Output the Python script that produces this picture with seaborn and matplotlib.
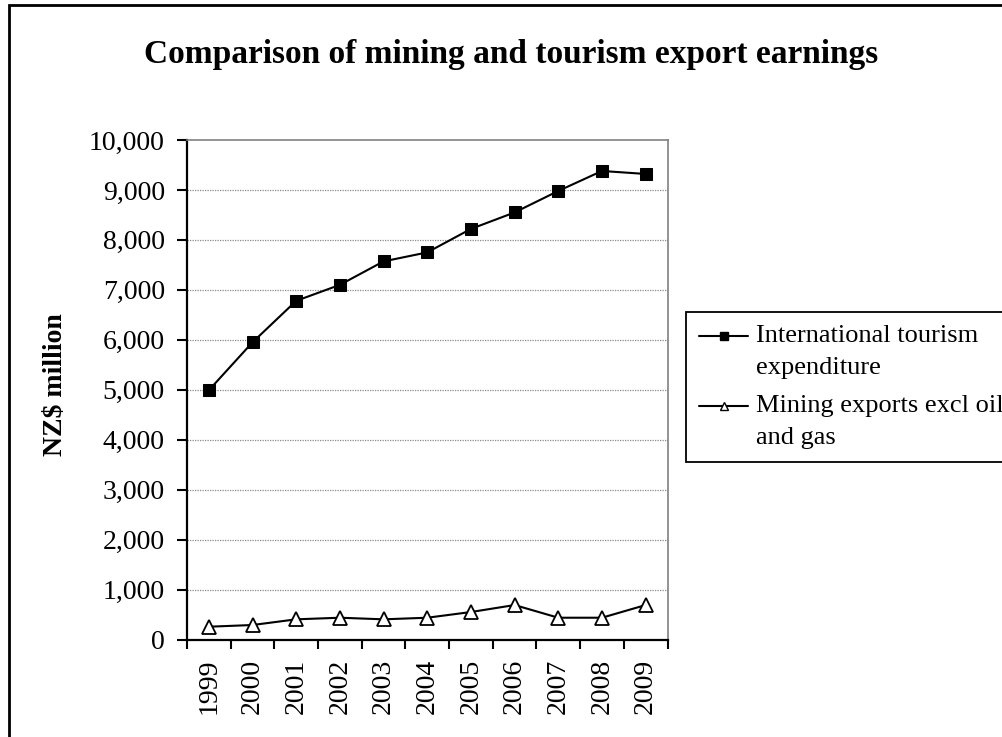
import matplotlib
matplotlib.use("Agg")
import matplotlib.pyplot as plt
import matplotlib.patches as mpatches
from matplotlib.ticker import FixedLocator, FuncFormatter
from matplotlib.transforms import ScaledTranslation
import numpy as np
import pandas as pd
import seaborn as sns

years = ["1999", "2000", "2001", "2002", "2003", "2004", "2005", "2006", "2007", "2008", "2009"]
tourism = [4990, 5950, 6780, 7100, 7570, 7750, 8220, 8550, 8980, 9380, 9320]
mining = [256, 290, 404, 436, 404, 436, 550, 690, 436, 436, 690]
series_names = ["International tourism\nexpenditure", "Mining exports excl oil\nand gas"]
yticks = list(range(0, 10001, 1000))

sns.set_theme(style="white")
plt.rcParams["font.family"] = ["Liberation Serif", "DejaVu Serif"]
plt.rcParams["text.color"] = "black"
plt.rcParams["axes.labelcolor"] = "black"
plt.rcParams["xtick.color"] = "black"
plt.rcParams["ytick.color"] = "black"

W, H = 1002, 737
fig = plt.figure(figsize=(W / 100, H / 100), dpi=100)
fig.patch.set_facecolor("white")

def fx(px):
    return px / W

def fy(py):
    return 1 - py / H

left, right, top, bottom = 187, 667.5, 140, 639.5
ax = fig.add_axes([fx(left), fy(bottom), fx(right - left), (bottom - top) / H])

df = pd.DataFrame({
    "pos": list(range(len(years))) * 2,
    "value": tourism + mining,
    "series": [series_names[0]] * len(years) + [series_names[1]] * len(years),
})

sns.lineplot(data=df[df.series == series_names[0]], x="pos", y="value", ax=ax,
             color="black", lw=1.5, marker="s", markersize=8.5,
             markerfacecolor="black", markeredgecolor="black",
             label=series_names[0])
sns.lineplot(data=df[df.series == series_names[1]], x="pos", y="value", ax=ax,
             color="black", lw=1.5, marker="^", markersize=9.5,
             markerfacecolor="white", markeredgecolor="black", markeredgewidth=1.3,
             label=series_names[1])

ax.set_xlim(-0.5, len(years) - 0.5)
ax.set_ylim(0, 10000)
ax.set_yticks(yticks)
ax.yaxis.set_major_formatter(FuncFormatter(lambda v, p: f"{int(v):,}"))
ax.set_xticks(range(len(years)))
ax.set_xticklabels(years, rotation=90, va="top", ha="center")
ax.xaxis.set_minor_locator(FixedLocator(np.arange(-0.5, len(years), 1.0)))
ax.tick_params(axis="x", which="major", length=0, pad=14, labelsize=20)
ax.tick_params(axis="x", which="minor", length=6.5, width=1.5, direction="out", color="black", bottom=True)
ax.tick_params(axis="y", which="major", length=7, width=1.5, direction="out", color="black",
               pad=9, labelsize=20, left=True)
ax.set_xlabel("")
ax.set_ylabel("")

ax.grid(False)
for v in yticks[1:-1]:
    ax.axhline(v, color="#8a8a8a", lw=0.9, ls=(0, (1, 1)), zorder=0)

for s in ["top", "right"]:
    ax.spines[s].set_color("#808080")
    ax.spines[s].set_linewidth(1.2)
for s in ["left", "bottom"]:
    ax.spines[s].set_color("black")
    ax.spines[s].set_linewidth(1.6)

leg = ax.legend(loc="upper left", bbox_to_anchor=(fx(686), fy(311.5)),
                bbox_transform=fig.transFigure, fontsize=19, frameon=True,
                fancybox=False, shadow=False, borderaxespad=0, borderpad=0.5,
                handlelength=1.85, handletextpad=0.3, labelspacing=0.6)
for t in leg.get_texts():
    t.set_linespacing(1.6)
    t.set_color("black")
# align each handle with the first line of its two-line label
shift = ScaledTranslation(0, 0.155, fig.dpi_scale_trans)
for h in leg.legend_handles:
    h.set_transform(h.get_transform() + shift)
    h.set_markersize(6)
    h.set_markeredgewidth(1.0)
frame = leg.get_frame()
frame.set_edgecolor("black")
frame.set_linewidth(1.3)
frame.set_facecolor("white")
frame.set_alpha(1)

fig.text(0.51, fy(63), "Comparison of mining and tourism export earnings",
         ha="center", va="baseline", fontsize=24, fontweight="bold", color="black")
fig.text(fx(55), fy(384.5), r"NZ\$ million", rotation=90, ha="center", va="center",
         fontsize=20, fontweight="bold", color="black")

border = mpatches.Rectangle((fx(8.7), -0.2), 1.3, fy(5) + 0.2, transform=fig.transFigure,
                            fill=False, edgecolor="black", lw=2.0, zorder=10)
fig.patches.append(border)

fig.savefig("out.png", dpi=100, facecolor="white")
